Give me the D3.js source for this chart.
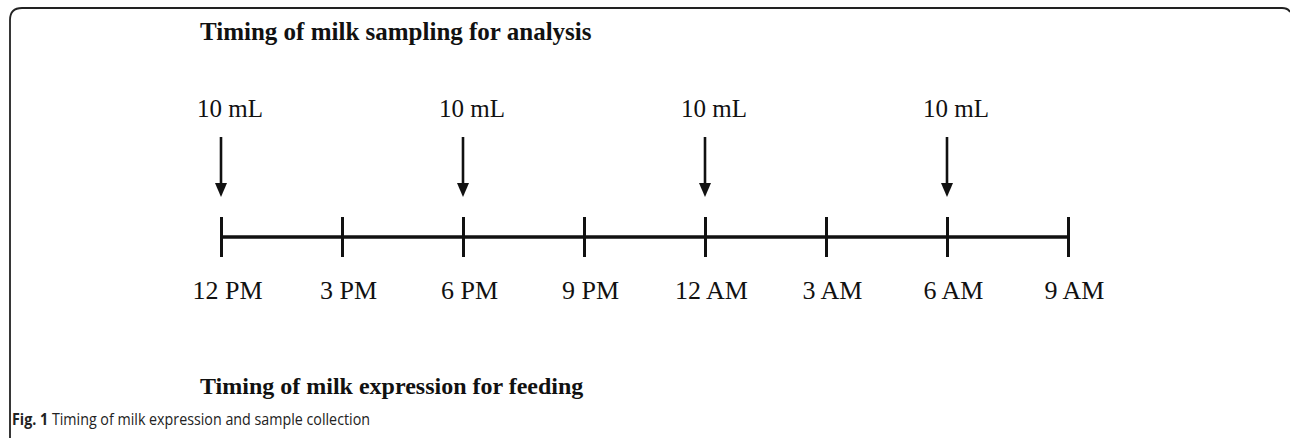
<!DOCTYPE html>
<html><head><meta charset="utf-8">
<script src="https://cdn.jsdelivr.net/npm/d3@7"></script>
<style>html,body{margin:0;padding:0;background:#fff;}svg{display:block;}</style>
</head><body>
<svg id="c" width="1290" height="438"></svg>
<script>
const hours = [0, 3, 6, 9, 12, 15, 18, 21];
const tickLabels = ["12 PM", "3 PM", "6 PM", "9 PM", "12 AM", "3 AM", "6 AM", "9 AM"];
const sampleHours = [0, 6, 12, 18];
const sampleVolumes = ["10 mL", "10 mL", "10 mL", "10 mL"];
const topTitle = "Timing of milk sampling for analysis";
const bottomTitle = "Timing of milk expression for feeding";
const captionBold = "Fig. 1";
const captionText = " Timing of milk expression and sample collection";

const svg = d3.select("#c");
const serif = "'Liberation Serif','Times New Roman',serif";

// frame
svg.append("path")
  .attr("d", "M10,438 L10,20 Q10,8 22,8 L1282,8 Q1288,8 1290,12")
  .attr("fill", "none").attr("stroke", "#222").attr("stroke-width", 1.8);

const x = d3.scaleLinear().domain([0, 21]).range([221, 1068]);
const axisY = 237;

const axis = d3.axisBottom(x).tickValues(hours)
  .tickFormat((d, i) => tickLabels[i]).tickSize(20).tickPadding(0);
const g = svg.append("g").attr("transform", `translate(0,${axisY})`).call(axis);
g.select(".domain").remove();
g.insert("line", ":first-child").attr("x1", x(0)).attr("x2", x(21))
  .attr("stroke", "#111").attr("stroke-width", 3.5);
g.selectAll(".tick line").attr("y1", -20).attr("y2", 20)
  .attr("stroke", "#111").attr("stroke-width", 3);
g.selectAll(".tick text").attr("y", 62).attr("dy", 0).attr("dx", 6)
  .attr("font-family", serif).attr("font-size", 26).attr("fill", "#111");

// arrows and volumes
const arr = svg.append("g");
sampleHours.forEach((h, i) => {
  const cx = x(h);
  arr.append("line").attr("x1", cx).attr("x2", cx).attr("y1", 137).attr("y2", 186)
    .attr("stroke", "#111").attr("stroke-width", 2.6);
  arr.append("path").attr("d", `M${cx - 6},183 L${cx + 6},183 L${cx},197 Z`).attr("fill", "#111");
  arr.append("text").attr("x", cx).attr("dx", 9).attr("y", 117).attr("text-anchor", "middle")
    .attr("font-family", serif).attr("font-size", 25).attr("fill", "#111").text(sampleVolumes[i]);
});

svg.append("text").attr("x", 200).attr("y", 40)
  .attr("font-family", serif).attr("font-weight", "bold").attr("font-size", 25).attr("fill", "#111")
  .text(topTitle);
svg.append("text").attr("x", 200).attr("y", 394)
  .attr("font-family", serif).attr("font-weight", "bold").attr("font-size", 24).attr("fill", "#111")
  .text(bottomTitle);

const cap = svg.append("text").attr("x", 12).attr("y", 425)
  .attr("font-family", "'Open Sans','Noto Sans',sans-serif").attr("font-size", 15.5).attr("fill", "#222")
  .attr("textLength", 358).attr("lengthAdjust", "spacingAndGlyphs");
cap.append("tspan").attr("font-weight", "bold").text(captionBold);
cap.append("tspan").text(captionText);
</script>
</body></html>
